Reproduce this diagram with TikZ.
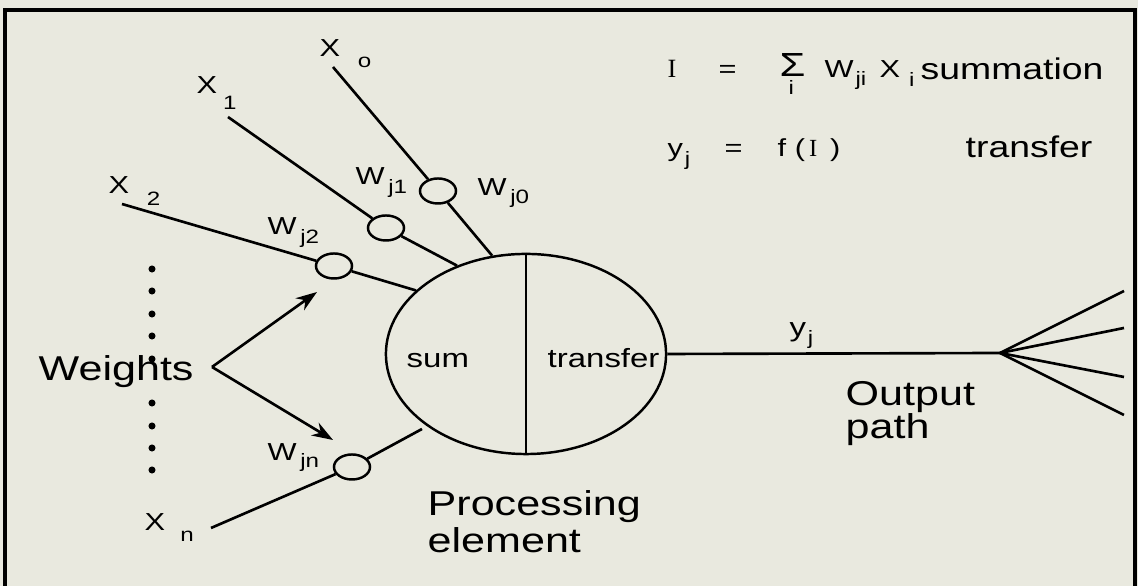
\documentclass[tikz,border=0pt]{standalone}
\usepackage{fontspec}
\setmainfont{Liberation Sans}[FakeStretch=1.25]
\newfontfamily\serifface{Liberation Serif}
\usetikzlibrary{shapes.geometric,arrows.meta}
\definecolor{paper}{RGB}{233,233,223}
\newcommand{\fs}[1]{\fontsize{#1}{#1}\selectfont}
\newcommand{\low}[3]{\hspace{#1}\raisebox{-#2}{\fs{5.5}#3}}

\begin{document}
\begin{tikzpicture}[
    x=0.01cm, y=-0.01cm,
    lbl/.style={anchor=base west, inner sep=0pt, font=\fs{7}},
    big/.style={anchor=north west, inner sep=0pt, align=left},
    wt/.style={ellipse, draw, fill=paper, minimum width=0.36cm, minimum height=0.25cm, inner sep=0pt, line width=0.7pt},
    edge/.style={line width=0.75pt},
    arr/.style={line width=0.75pt, -{Stealth[length=6pt,width=4.2pt]}}
  ]
  \fill[paper] (0,0) rectangle (1138,586);
  \useasboundingbox (0,0) rectangle (1138,586);
  \draw[line width=1pt] (5,586) -- (5,10) -- (1135,10) -- (1135,586);

  % processing element
  \node[ellipse, draw, line width=0.7pt, minimum width=2.8cm, minimum height=2cm, inner sep=0pt] (pe) at (526,354) {};
  \draw[edge] (pe.north) -- (pe.south);
  \node[lbl, font=\fs{7.5}] (sum) at (406,368) {sum};
  \node[lbl, font=\fs{7.5}] (transfer) at (547,368) {transfer};
  \node[big, font=\fontsize{9.8}{10.5}\selectfont] (pelab) at (427,490) {Processing\\element};

  % inputs and weights
  \coordinate (s0) at (333,67);
  \coordinate (s1) at (228,117);
  \coordinate (s2) at (122,204);
  \coordinate (sn) at (211,528);
  \coordinate (en) at (422,429);
  \node[wt] (w0) at (438,191) {};
  \node[wt] (w1) at (386,228) {};
  \node[wt] (w2) at (334,266) {};
  \node[wt] (wn) at (352,467) {};
  \draw[edge] (s0) -- (w0) -- (pe.109);
  \draw[edge] (s1) -- (w1) -- (pe.128);
  \draw[edge] (s2) -- (w2) -- (pe.150);
  \draw[edge] (sn) -- (wn) -- (en);

  \node[lbl] (x0) at (319,57) {X\low{5pt}{2.9pt}{o}};
  \node[lbl] (x1) at (196,94) {X\low{1.7pt}{4.3pt}{1}};
  \node[lbl] (x2) at (108,194) {X\low{5pt}{3.4pt}{2}};
  \node[lbl] (xn) at (144,531) {X\low{4.3pt}{3.1pt}{n}};
  \node[lbl] (lw0) at (477,196) {W\low{1pt}{2pt}{j0}};
  \node[lbl] (lw1) at (355,185) {W\low{1pt}{2.3pt}{j1}};
  \node[lbl] (lw2) at (267,235) {W\low{1pt}{2.3pt}{j2}};
  \node[lbl] (lwn) at (267,461) {W\low{1pt}{1.8pt}{jn}};

  % weights pointer
  \foreach \y in {269,291,314,336,359,403,426,448,470}
    \fill (152,\y) circle[radius=1pt];
  \node[lbl, font=\fs{9.8}] (weights) at (38,381) {Weights};
  \coordinate (fork) at (212,367);
  \coordinate (t2) at (317,292);
  \coordinate (tn) at (333,440);
  \draw[arr] (fork) -- (t2);
  \draw[arr] (fork) -- (tn);

  % output path
  \coordinate (fan) at (1000,353);
  \draw[edge] (pe.east) -- (fan);
  \foreach \i/\y in {1/291,2/328,3/377,4/415} {
    \coordinate (o\i) at (1124,\y);
    \draw[edge] (fan) -- (o\i);
  }
  \node[lbl, font=\fs{7.5}] (yj) at (789,337) {y\low{0.5pt}{2.2pt}{j}};
  \node[big, font=\fontsize{9.8}{9.4}\selectfont] (outlab) at (845,381) {Output\\path};

  % formulas
  \node[lbl, font=\serifface\fs{7.5}] (eqI) at (667,78) {I};
  \node[lbl] (eqa) at (718,78) {=};
  \node[lbl, font=\fs{9.5}] (sig) at (779,77) {Σ};
  \node[lbl, font=\fs{5.5}] (sigi) at (788,95) {i};
  \node[lbl] (eqw) at (824,78) {W\low{0.5pt}{2pt}{ji}};
  \node[lbl] (eqx) at (879,78) {X\low{2.5pt}{2.5pt}{i}};
  \node[lbl, font=\fs{8.5}] (summ) at (920,80) {summation};
  \node[lbl] (eqy) at (667,157) {y\low{0.5pt}{2.5pt}{j}};
  \node[lbl] (eqb) at (724,157) {=};
  \node[lbl] (eqf) at (777,157) {f (\,{\serifface I}\, )};
  \node[lbl, font=\fs{8.5}] (transf) at (965,158) {transfer};
\end{tikzpicture}
\end{document}
